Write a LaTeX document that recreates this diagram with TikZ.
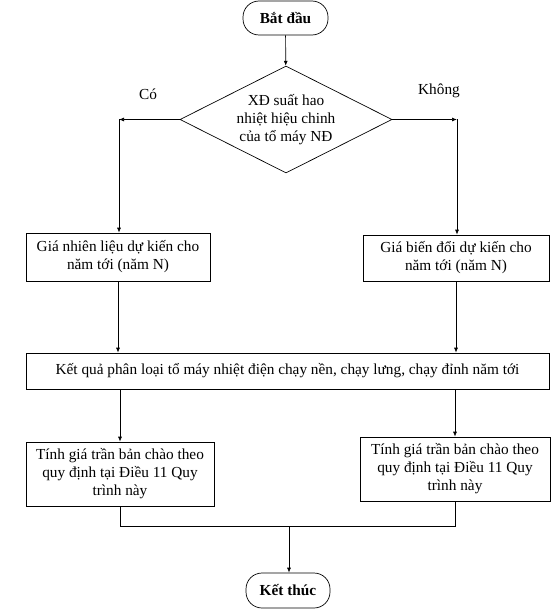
\documentclass[tikz,border=0pt]{standalone}
\usepackage{fontspec}
\setmainfont{Liberation Serif}
\usetikzlibrary{shapes.geometric,arrows.meta}
\begin{document}
\begin{tikzpicture}[x=1pt,y=-1pt,
  base/.style={draw, line width=0.7pt, font=\fontsize{15.3}{18}\selectfont, align=center, inner sep=0pt},
  proc/.style={base, rectangle},
  term/.style={base, rounded corners=16pt, font=\fontsize{15.3}{18}\selectfont\bfseries},
  dec/.style={base, diamond, aspect=2},
  conn/.style={line width=0.7pt},
  arr/.style={conn, -{Latex[length=5pt,width=4pt]}},
  lab/.style={font=\fontsize{15.3}{18}\selectfont, inner sep=0pt}]
\useasboundingbox (0,0) rectangle (557,615);
\node[term, minimum width=85pt, minimum height=34pt] (start) at (285.5,18) {Bắt đầu};
\node[dec, minimum width=212pt, minimum height=107pt] (d) at (286,119.5) {XĐ suất hao\\nhiệt hiệu chinh\\của tổ máy NĐ};
\node[lab] (co) at (148,94) {Có};
\node[lab] (khong) at (439,91) {Không};
\node[proc, minimum width=184pt, minimum height=48pt] (b1) at (118,257) {Giá nhiên liệu dự kiến cho\\năm tới (năm N)};
\node[proc, minimum width=186pt, minimum height=46pt] (b2) at (456,258) {Giá biến đổi dự kiến cho\\năm tới (năm N)};
\node[proc, minimum width=523pt, minimum height=36pt] (big) at (287.5,371) {Kết quả phân loại tổ máy nhiệt điện chạy nền, chạy lưng, chạy đỉnh năm tới};
\node[proc, minimum width=188pt, minimum height=64pt] (b3) at (120,474) {Tính giá trần bản chào theo\\quy định tại Điều 11 Quy\\trình này};
\node[proc, minimum width=190pt, minimum height=64pt] (b4) at (455,469) {Tính giá trần bản chào theo\\quy định tại Điều 11 Quy\\trình này};
\node[term, minimum width=84pt, minimum height=35pt] (end) at (288,590.5) {Kết thúc};
\coordinate (L) at (119,119.5);
\coordinate (R) at (457,119.5);
\coordinate (J) at (289,526);
\draw[arr] (start) -- (d);
\draw[arr] (d.west) -- (L);
\draw[arr] (d.east) -- (R);
\draw[arr] (L) -- (L |- b1.north);
\draw[arr] (R) -- (R |- b2.north);
\draw[arr] (b1.south) -- (b1.south |- big.north);
\draw[arr] (b2.south) -- (b2.south |- big.north);
\draw[arr] (big.south -| b3.north) -- (b3.north);
\draw[arr] (big.south -| b4.north) -- (b4.north);
\draw[conn] (b3.south) |- (J);
\draw[conn] (b4.south) |- (J);
\draw[arr] (J) -- (J |- end.north);
\end{tikzpicture}
\end{document}
